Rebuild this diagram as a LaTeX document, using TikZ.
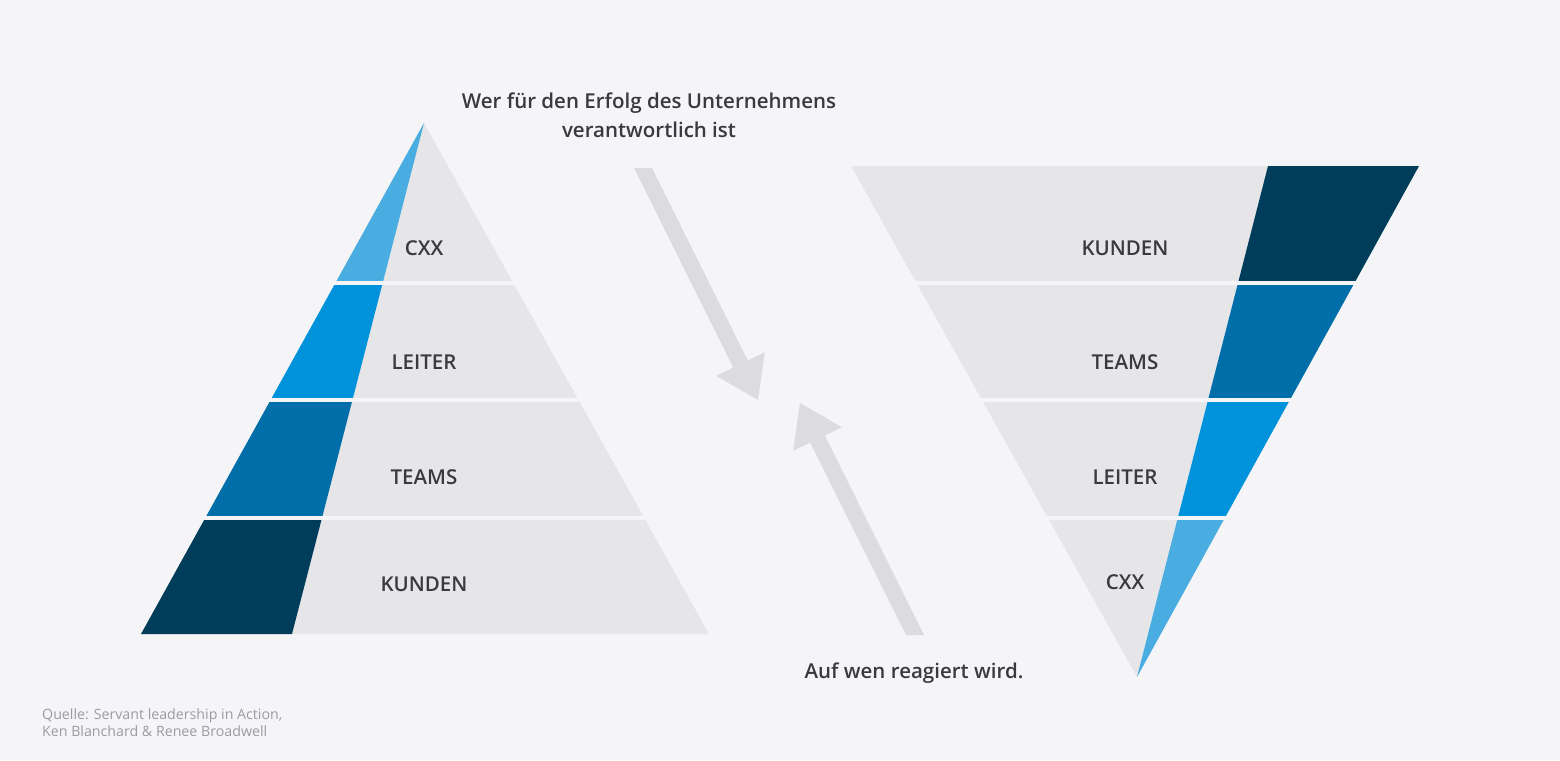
\documentclass[tikz,border=0pt]{standalone}
\usepackage{fontspec}
\setmainfont{Open Sans}
\IfFontExistsTF{Open Sans SemiBold}{\newfontfamily\semib{Open Sans SemiBold}}{%
  \IfFontExistsTF{Open Sans Semibold}{\newfontfamily\semib{Open Sans Semibold}}{%
    \newfontfamily\semib{Open Sans}[FakeBold=1.2]}}
\definecolor{bg}{HTML}{F5F5F7}
\definecolor{band}{HTML}{E6E6E8}
\definecolor{arrowgray}{HTML}{DCDCDE}
\definecolor{cxxblue}{HTML}{4AADE1}
\definecolor{leiterblue}{HTML}{0093DC}
\definecolor{teamsblue}{HTML}{006FA9}
\definecolor{kundenblue}{HTML}{003D5B}
\definecolor{txt}{HTML}{3A3A3C}
\definecolor{srctxt}{HTML}{9C9CA0}
\tikzset{
  lbl/.style={font=\semib\fontsize{20.5}{24}\selectfont, text=txt, inner sep=0pt, anchor=center},
  head/.style={font=\semib\fontsize{20.5}{29}\selectfont, text=txt, align=center, inner sep=0pt},
  src/.style={font=\fontsize{14.2}{17}\selectfont, text=srctxt, align=left, inner sep=0pt, anchor=north west},
  gap/.style={draw=bg, line width=4pt},
  bigarrow/.style={fill=arrowgray}
}
\begin{document}
\begin{tikzpicture}[x=1pt,y=-1pt]
\fill[bg] (0,0) rectangle (1560,760);
\useasboundingbox (0,0) rectangle (1560,760);
% ---------- left pyramid ----------
\coordinate (LA) at (424,123);
\coordinate (LL) at (141,634);
\coordinate (LR) at (709,634);
\coordinate (LD) at (292,634);
\fill[band] (LA) -- (LR) -- (LL) -- cycle;
\foreach \ya/\yb/\c in {120/283/cxxblue, 283/400/leiterblue, 400/518/teamsblue, 518/640/kundenblue}{
  \begin{scope}
    \clip (0,\ya) rectangle (1560,\yb);
    \fill[\c] (LA) -- (LD) -- (LL) -- cycle;
  \end{scope}
}
\foreach \y in {283,400,518}{ \draw[gap] (120,\y) -- (730,\y); }
\node[lbl] (l1) at (424,248) {CXX};
\node[lbl] (l2) at (424,362) {LEITER};
\node[lbl] (l3) at (424,477) {TEAMS};
\node[lbl] (l4) at (424,584) {KUNDEN};
% ---------- right inverted pyramid ----------
\coordinate (RA) at (1137,677);
\coordinate (RL) at (851,166);
\coordinate (RR) at (1419,166);
\coordinate (RD) at (1268,166);
\fill[band] (RL) -- (RR) -- (RA) -- cycle;
\foreach \ya/\yb/\c in {160/283/kundenblue, 283/400/teamsblue, 400/518/leiterblue, 518/680/cxxblue}{
  \begin{scope}
    \clip (0,\ya) rectangle (1560,\yb);
    \fill[\c] (RD) -- (RR) -- (RA) -- cycle;
  \end{scope}
}
\foreach \y in {283,400,518}{ \draw[gap] (830,\y) -- (1440,\y); }
\node[lbl] (r1) at (1125,248) {KUNDEN};
\node[lbl] (r2) at (1125,362) {TEAMS};
\node[lbl] (r3) at (1125,477) {LEITER};
\node[lbl] (r4) at (1125,582) {CXX};
% ---------- arrows ----------
\fill[bigarrow] (634,168) -- (652,168) -- (747.8,360.5) -- (764.8,352.2) -- (758,400)
  -- (716.2,375.8) -- (733.2,367.5) -- cycle;
\fill[bigarrow] (924,635) -- (906,635) -- (810.2,442.5) -- (793.2,450.8) -- (800,403)
  -- (841.8,427.2) -- (824.8,435.5) -- cycle;
% ---------- texts ----------
\node[head] (top) at (649,115) {Wer für den Erfolg des Unternehmens\\verantwortlich ist};
\node[head] (bottom) at (914,673) {Auf wen reagiert wird.};
\node[src] (source) at (42,709) {Quelle: Servant leadership in Action,\\Ken Blanchard \& Renee Broadwell};
\end{tikzpicture}
\end{document}
